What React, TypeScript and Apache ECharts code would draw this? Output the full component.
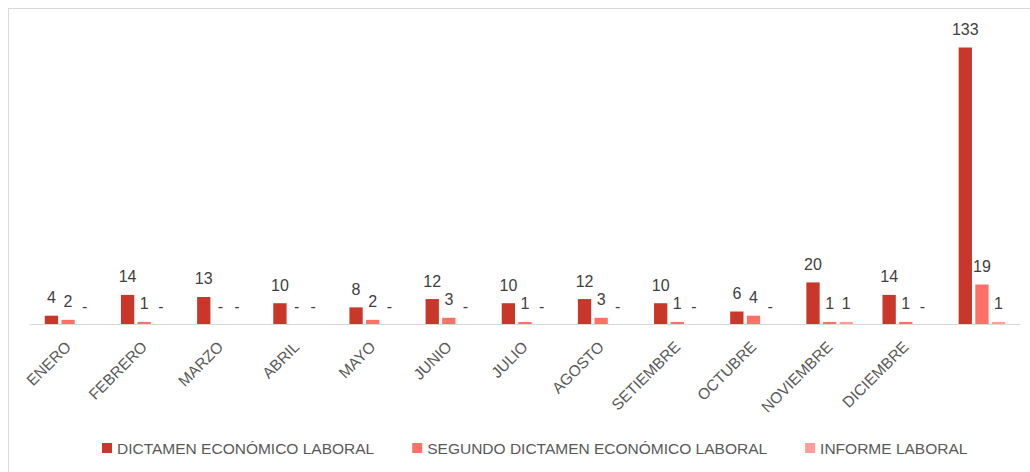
import React, { useEffect, useRef } from "react";
import * as echarts from "echarts";

const categories = [
  "ENERO", "FEBRERO", "MARZO", "ABRIL", "MAYO", "JUNIO", "JULIO",
  "AGOSTO", "SETIEMBRE", "OCTUBRE", "NOVIEMBRE", "DICIEMBRE", "",
];
const dictamen = [4, 14, 13, 10, 8, 12, 10, 12, 10, 6, 20, 14, 133];
const segundo = [2, 1, 0, 0, 2, 3, 1, 3, 1, 4, 1, 1, 19];
const informe = [0, 0, 0, 0, 0, 0, 0, 0, 0, 0, 1, 0, 1];
const seriesNames = [
  "DICTAMEN ECONÓMICO LABORAL",
  "SEGUNDO DICTAMEN ECONÓMICO LABORAL",
  "INFORME LABORAL",
];
const colors = ["#C8372A", "#FF7166", "#FF9E99"];

const FONT = "'Liberation Sans', Arial, sans-serif";

export default function App() {
  const ref = useRef<HTMLDivElement>(null);
  useEffect(() => {
    if (!ref.current) return;
    const chart = echarts.init(ref.current, null, { renderer: "svg" });
    const mk = (name: string, data: number[], color: string) => ({
      name,
      type: "bar",
      data,
      barWidth: 13.3,
      barGap: "25%",
      itemStyle: { color },
      label: {
        show: true,
        position: "top",
        distance: 10,
        fontFamily: FONT,
        fontSize: 16,
        color: "#404040",
        formatter: (p: any) => (p.value === 0 ? "-" : String(p.value)),
      },
    });
    chart.setOption({
      animation: false,
      textStyle: { fontFamily: FONT },
      grid: { left: 21, right: 10, top: 24, bottom: 148, containLabel: false },
      legend: {
        left: 88,
        bottom: 11,
        icon: "rect",
        itemWidth: 10,
        itemHeight: 10,
        itemGap: 38,
        textStyle: { fontFamily: FONT, fontSize: 15.5, color: "#595959" },
        data: seriesNames,
      },
      xAxis: {
        type: "category",
        data: categories,
        axisLine: { lineStyle: { color: "#D9D9D9", width: 1 } },
        axisTick: { show: false },
        axisLabel: {
          rotate: 45,
          interval: 0,
          margin: 20,
          fontFamily: FONT,
          fontSize: 15.5,
          color: "#595959",
        },
      },
      yAxis: {
        type: "value",
        min: 0,
        max: 140,
        show: false,
        splitLine: { show: false },
      },
      series: [
        mk(seriesNames[0], dictamen, colors[0]),
        mk(seriesNames[1], segundo, colors[1]),
        mk(seriesNames[2], informe, colors[2]),
      ],
    });
    return () => chart.dispose();
  }, []);
  return (
    <div
      style={{
        position: "absolute",
        left: 8,
        top: 8,
        width: 1022,
        height: 464,
        boxSizing: "border-box",
        borderLeft: "1px solid #D9D9D9",
        borderTop: "1px solid #D9D9D9",
        background: "#fff",
      }}
    >
      <div ref={ref} style={{ width: "100%", height: "100%" }} />
    </div>
  );
}
